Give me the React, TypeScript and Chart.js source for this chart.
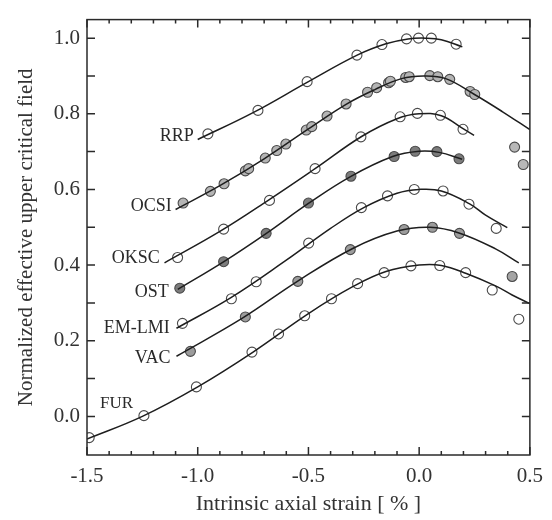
import React, { useEffect, useRef } from "react";
import { Chart, registerables } from "chart.js";

Chart.register(...registerables);

// ---- tick values ----
const xMajorTicks = [-1.5, -1.0, -0.5, 0.0, 0.5];
const xMinorTicks = [-1.4, -1.3, -1.2, -1.1, -0.9, -0.8, -0.7, -0.6, -0.4, -0.3, -0.2, -0.1, 0.1, 0.2, 0.3, 0.4];
const yLabelTicks = [0.0, 0.2, 0.4, 0.6, 0.8, 1.0];
const yAllTicks = [0.0, 0.1, 0.2, 0.3, 0.4, 0.5, 0.6, 0.7, 0.8, 0.9, 1.0];

// ---- measured points ----
const rrpX = [-0.954, -0.728, -0.506, -0.281, -0.168, -0.057, -0.003, 0.055, 0.167];
const rrpY = [0.747, 0.809, 0.885, 0.955, 0.983, 0.998, 1.0, 1.0, 0.984];

const ocsiX = [-1.066, -0.943, -0.881, -0.785, -0.770, -0.695, -0.643, -0.602, -0.510, -0.485, -0.416, -0.330, -0.233, -0.192, -0.138, -0.130, -0.061, -0.045, 0.048, 0.084, 0.138, 0.230, 0.251];
const ocsiY = [0.564, 0.595, 0.615, 0.649, 0.655, 0.683, 0.703, 0.720, 0.757, 0.766, 0.794, 0.826, 0.857, 0.869, 0.882, 0.886, 0.896, 0.898, 0.901, 0.898, 0.891, 0.859, 0.851];
const ocsiExtraX = [0.431, 0.470];
const ocsiExtraY = [0.712, 0.666];

const okscX = [-1.091, -0.883, -0.676, -0.470, -0.263, -0.086, -0.008, 0.096, 0.198];
const okscY = [0.420, 0.495, 0.571, 0.655, 0.739, 0.792, 0.801, 0.796, 0.759];

const ostX = [-1.081, -0.883, -0.691, -0.500, -0.308, -0.113, -0.018, 0.080, 0.180];
const ostY = [0.339, 0.409, 0.484, 0.564, 0.635, 0.687, 0.701, 0.700, 0.681];

const emX = [-1.069, -0.848, -0.736, -0.499, -0.261, -0.143, -0.022, 0.108, 0.225, 0.348];
const emY = [0.246, 0.311, 0.356, 0.458, 0.552, 0.583, 0.600, 0.596, 0.561, 0.497];

const vacX = [-1.033, -0.785, -0.548, -0.311, -0.068, 0.060, 0.182];
const vacY = [0.172, 0.263, 0.357, 0.441, 0.494, 0.500, 0.484];
const vacExtraX = [0.420];
const vacExtraY = [0.370];

const furX = [-1.490, -1.243, -1.006, -0.755, -0.635, -0.517, -0.396, -0.278, -0.158, -0.037, 0.093, 0.210, 0.330, 0.450];
const furY = [-0.056, 0.002, 0.078, 0.170, 0.218, 0.266, 0.311, 0.351, 0.380, 0.398, 0.399, 0.380, 0.334, 0.257];

// ---- fitted curves ----
const rrpFitX = [-1.0, -0.75, -0.5, -0.28, -0.15, -0.05, 0.03, 0.1, 0.195];
const rrpFitY = [0.732, 0.803, 0.885, 0.955, 0.985, 0.998, 1.0, 0.996, 0.977];

const ocsiFitX = [-1.1, -0.9, -0.7, -0.5, -0.33, -0.2, -0.08, 0.02, 0.12, 0.25, 0.375, 0.5];
const ocsiFitY = [0.547, 0.610, 0.681, 0.760, 0.825, 0.864, 0.893, 0.900, 0.893, 0.851, 0.806, 0.758];

const okscFitX = [-1.15, -0.9, -0.68, -0.47, -0.26, -0.1, 0.0, 0.1, 0.2, 0.248];
const okscFitY = [0.406, 0.489, 0.572, 0.655, 0.740, 0.787, 0.800, 0.795, 0.760, 0.743];

const ostFitX = [-1.09, -0.88, -0.69, -0.5, -0.31, -0.12, 0.0, 0.09, 0.194];
const ostFitY = [0.336, 0.410, 0.484, 0.563, 0.634, 0.687, 0.701, 0.698, 0.680];

const emFitX = [-1.096, -0.85, -0.6, -0.4, -0.25, -0.1, 0.0, 0.1, 0.228, 0.3, 0.398];
const emFitY = [0.233, 0.314, 0.413, 0.497, 0.552, 0.590, 0.600, 0.596, 0.562, 0.532, 0.499];

const vacFitX = [-1.096, -0.8, -0.55, -0.3, -0.1, 0.05, 0.18, 0.345, 0.45];
const vacFitY = [0.159, 0.259, 0.357, 0.444, 0.490, 0.500, 0.485, 0.443, 0.406];

const furFitX = [-1.5, -1.25, -1.0, -0.75, -0.5, -0.3, -0.15, 0.0, 0.1, 0.213, 0.345, 0.42, 0.5];
const furFitY = [-0.06, 0.0, 0.078, 0.170, 0.272, 0.343, 0.383, 0.400, 0.399, 0.378, 0.345, 0.321, 0.298];

// ---- series labels (anchor in data units) ----
const labelTexts = ["RRP", "OCSI", "OKSC", "OST", "EM-LMI", "VAC", "FUR"];
const labelX = [-1.018, -1.117, -1.171, -1.131, -1.126, -1.123, -1.441];
const labelY = [0.740, 0.555, 0.417, 0.328, 0.233, 0.154, 0.034];
const labelAlign = ["right", "right", "right", "right", "right", "right", "left"];

const zip = (xs: number[], ys: number[]) => xs.map((x, i) => ({ x, y: ys[i] }));

const SERIF = '"Liberation Serif", "Times New Roman", serif';

const fitDs = (xs: number[], ys: number[]) => ({
  data: zip(xs, ys),
  showLine: true,
  pointRadius: 0,
  borderColor: "#1e1e1e",
  borderWidth: 1.5,
  tension: 0.4,
  fill: false,
});

const ptsDs = (xs: number[], ys: number[], fillColor: string) => ({
  data: zip(xs, ys),
  showLine: false,
  pointRadius: 5,
  pointBorderWidth: 1.1,
  pointBorderColor: "#4a4a4a",
  pointBackgroundColor: fillColor,
});

const frameTicks = {
  id: "frameTicks",
  afterDraw(chart: any) {
    const { ctx, chartArea, scales } = chart;
    const { left, right, top, bottom } = chartArea;
    const x = scales.x;
    const y = scales.y;
    ctx.save();
    ctx.strokeStyle = "#2a2a2a";
    ctx.lineWidth = 1.5;
    ctx.strokeRect(left, top, right - left, bottom - top);
    ctx.beginPath();
    const vTick = (v: number, len: number) => {
      const px = x.getPixelForValue(v);
      ctx.moveTo(px, bottom);
      ctx.lineTo(px, bottom - len);
      ctx.moveTo(px, top);
      ctx.lineTo(px, top + len);
    };
    xMinorTicks.forEach((v) => vTick(v, 4));
    xMajorTicks.forEach((v) => vTick(v, 8));
    yAllTicks.forEach((v) => {
      const py = y.getPixelForValue(v);
      ctx.moveTo(left, py);
      ctx.lineTo(left + 8, py);
      ctx.moveTo(right, py);
      ctx.lineTo(right - 8, py);
    });
    ctx.stroke();

    ctx.fillStyle = "#2a2a2a";
    ctx.textBaseline = "middle";
    labelTexts.forEach((t, i) => {
      ctx.font = (t === "FUR" ? "17px " : "18px ") + SERIF;
      ctx.textAlign = labelAlign[i];
      ctx.fillText(t, x.getPixelForValue(labelX[i]), y.getPixelForValue(labelY[i]));
    });
    ctx.restore();
  },
};

export default function App() {
  const ref = useRef<HTMLCanvasElement | null>(null);
  useEffect(() => {
    if (!ref.current) return;
    const chart = new Chart(ref.current, {
      type: "scatter",
      data: {
        datasets: [
          fitDs(rrpFitX, rrpFitY),
          fitDs(ocsiFitX, ocsiFitY),
          fitDs(okscFitX, okscFitY),
          fitDs(ostFitX, ostFitY),
          fitDs(emFitX, emFitY),
          fitDs(vacFitX, vacFitY),
          fitDs(furFitX, furFitY),
          ptsDs(rrpX, rrpY, "rgba(255,255,255,0)"),
          ptsDs(ocsiX, ocsiY, "#b4b4b4"),
          ptsDs(ocsiExtraX, ocsiExtraY, "#b8b8b8"),
          ptsDs(okscX, okscY, "rgba(255,255,255,0)"),
          ptsDs(ostX, ostY, "#7c7c7c"),
          ptsDs(emX, emY, "rgba(255,255,255,0)"),
          ptsDs(vacX, vacY, "#9c9c9c"),
          ptsDs(vacExtraX, vacExtraY, "#a4a4a4"),
          ptsDs(furX, furY, "rgba(255,255,255,0)"),
        ] as any,
      },
      options: {
        animation: false,
        responsive: false,
        devicePixelRatio: 1,
        layout: { padding: { top: 13, right: 21, left: 0, bottom: 0 } },
        plugins: { legend: { display: false }, tooltip: { enabled: false } },
        scales: {
          x: {
            type: "linear",
            min: -1.5,
            max: 0.5,
            grid: { display: false, drawTicks: false },
            border: { display: false },
            afterBuildTicks: (s: any) => {
              s.ticks = xMajorTicks.map((v) => ({ value: v }));
            },
            afterFit: (s: any) => {
              s.height = 65;
            },
            ticks: {
              padding: 9,
              color: "#333",
              font: { family: SERIF, size: 21 },
              maxRotation: 0,
              callback: (v: any) => Number(v).toFixed(1),
            },
            title: {
              display: true,
              text: "Intrinsic axial strain [ % ]",
              color: "#333",
              font: { family: SERIF, size: 22 },
              padding: { top: 4, bottom: 3 },
            },
          },
          y: {
            type: "linear",
            min: -0.102,
            max: 1.049,
            grid: { display: false, drawTicks: false },
            border: { display: false },
            afterBuildTicks: (s: any) => {
              s.ticks = yLabelTicks.map((v) => ({ value: v }));
            },
            afterFit: (s: any) => {
              s.width = 87;
            },
            ticks: {
              padding: 7,
              color: "#333",
              font: { family: SERIF, size: 21 },
              callback: (v: any) => Number(v).toFixed(1),
            },
            title: {
              display: true,
              text: "Normalized effective upper critical field",
              color: "#333",
              font: { family: SERIF, size: 21 },
              padding: { top: 14, bottom: 0 },
            },
          },
        },
      },
      plugins: [frameTicks],
    } as any);
    return () => chart.destroy();
  }, []);
  return (
    <div style={{ position: "fixed", left: 0, top: 0, width: 552, height: 520, background: "#fff" }}>
      <canvas ref={ref} width={552} height={520} style={{ display: "block" }} />
    </div>
  );
}
